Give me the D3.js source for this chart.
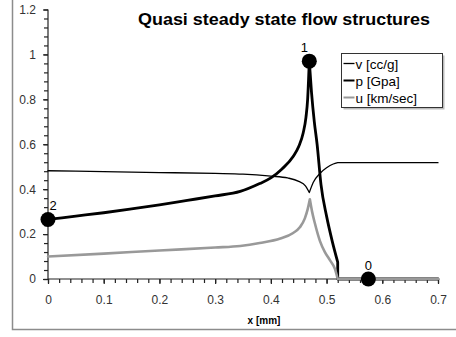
<!DOCTYPE html>
<html>
<head>
<meta charset="utf-8">
<script src="https://cdn.jsdelivr.net/npm/d3@7"></script>
<style>
  body { margin: 0; background: #fff; }
  svg { display: block; font-family: "Liberation Sans", Arial, sans-serif; }
</style>
</head>
<body>
<svg id="chart" width="456" height="337"></svg>
<script>
// values
const vX = [0, 0.1, 0.2, 0.3, 0.35, 0.4, 0.43, 0.45, 0.462, 0.469, 0.476, 0.488, 0.5, 0.512, 0.52, 0.7];
const vY = [0.482, 0.478, 0.474, 0.47, 0.467, 0.458, 0.45, 0.435, 0.415, 0.385, 0.43, 0.47, 0.495, 0.512, 0.518, 0.518];
const vBreaks = [9, 14];

const pX = [0, 0.05, 0.1, 0.15, 0.2, 0.25, 0.3, 0.345, 0.38, 0.4, 0.42, 0.44, 0.45, 0.458, 0.463, 0.466, 0.469, 0.473, 0.478, 0.483, 0.49, 0.5, 0.51, 0.52, 0.52, 0.7];
const pY = [0.265, 0.28, 0.295, 0.312, 0.33, 0.35, 0.37, 0.39, 0.425, 0.45, 0.49, 0.545, 0.59, 0.65, 0.72, 0.8, 0.97, 0.83, 0.7, 0.6, 0.42, 0.28, 0.17, 0.075, 0, 0];
const pBreaks = [16, 23, 24];

const uX = [0, 0.1, 0.2, 0.3, 0.345, 0.38, 0.417, 0.44, 0.452, 0.461, 0.466, 0.47, 0.474, 0.479, 0.488, 0.497, 0.506, 0.515, 0.52, 0.7];
const uY = [0.1, 0.113, 0.127, 0.14, 0.147, 0.16, 0.18, 0.205, 0.23, 0.27, 0.31, 0.355, 0.3, 0.248, 0.17, 0.12, 0.084, 0.045, 0, 0];
const uBreaks = [11, 18];

const pointX = [0, 0.469, 0.575];
const pointY = [0.265, 0.97, 0];
const pointLabels = ['2', '1', '0'];

const seriesNames = ['v [cc/g]', 'p [Gpa]', 'u [km/sec]'];
const xTicks = [0, 0.1, 0.2, 0.3, 0.4, 0.5, 0.6, 0.7];
const yTicks = [0, 0.2, 0.4, 0.6, 0.8, 1, 1.2];

const svg = d3.select('#chart');

// outer chart frame (top and right run off the picture)
svg.append('rect')
    .attr('x', 12.5).attr('y', -10)
    .attr('width', 470).attr('height', 339.5)
    .style('fill', 'none')
    .style('stroke', '#8c8c8c')
    .style('stroke-width', 1.5);

const xScale = d3.scaleLinear().domain([0, 0.7]).range([48, 438]);
const yScale = d3.scaleLinear().domain([0, 1.2]).range([279, 9.5]);

// axes
const yAxis = svg.append('g')
    .attr('transform', 'translate(48,0)')
    .call(d3.axisLeft(yScale).tickValues(yTicks).tickSize(5).tickPadding(7)
        .tickFormat(d => d3.format('')(d)));
yAxis.append('g').call(d3.axisLeft(yScale).tickValues(d3.range(0, 1.2001, 0.04)).tickSize(4).tickFormat(''))
    .select('.domain').remove();

const xAxis = svg.append('g')
    .attr('transform', 'translate(0,279)')
    .call(d3.axisBottom(xScale).tickValues(xTicks).tickSize(5).tickPadding(11)
        .tickFormat(d => d3.format('')(d)));
xAxis.append('g').call(d3.axisBottom(xScale).tickValues(d3.range(0, 0.7001, 0.02)).tickSize(4).tickFormat(''))
    .select('.domain').remove();

[yAxis, xAxis].forEach(a => {
    a.selectAll('path, line').style('stroke', '#222').style('stroke-width', 1.2);
    a.selectAll('text').style('font-size', '12px').style('fill', '#333');
});
yAxis.select('.domain').attr('d', 'M0,' + yScale(1.2) + 'V' + yScale(0));
xAxis.select('.domain').attr('d', 'M' + xScale(0) + ',0H' + xScale(0.7));

svg.append('text')
    .attr('x', 264).attr('y', 324)
    .attr('text-anchor', 'middle')
    .style('font-size', '10px')
    .style('font-weight', 'bold')
    .text('x [mm]');

// series: each drawn as smooth pieces split at the sharp corners
const line = d3.line().x(d => xScale(d[0])).y(d => yScale(d[1])).curve(d3.curveMonotoneX);
function pieces(xs, ys, breaks) {
    const pts = d3.zip(xs, ys);
    const cuts = [0, ...breaks, pts.length - 1];
    const out = [];
    for (let i = 0; i < cuts.length - 1; i++) {
        const seg = pts.slice(cuts[i], cuts[i + 1] + 1);
        out.push(seg[0][0] === seg[seg.length - 1][0] ? d3.line().x(d => xScale(d[0])).y(d => yScale(d[1]))(seg) : line(seg));
    }
    return out.join('');
}
const series = [
    { d: pieces(vX, vY, vBreaks), color: '#000', width: 1.3 },
    { d: pieces(pX, pY, pBreaks), color: '#000', width: 2.8 },
    { d: pieces(uX, uY, uBreaks), color: '#999', width: 2.6 }
];
svg.append('g').selectAll('path')
    .data(series)
    .join('path')
    .attr('d', d => d.d)
    .style('fill', 'none')
    .style('stroke', d => d.color)
    .style('stroke-width', d => d.width)
    .style('stroke-linejoin', 'round')
    .style('stroke-linecap', 'round');

// marked points
const pts = d3.zip(pointX, pointY, pointLabels);
svg.append('g').selectAll('circle')
    .data(pts)
    .join('circle')
    .attr('cx', d => xScale(d[0]))
    .attr('cy', d => yScale(d[1]))
    .attr('r', 7.5)
    .style('fill', '#000');
const labelOffset = [[5, -9], [-5, -9], [0, -9]];
svg.append('g').selectAll('text')
    .data(pts)
    .join('text')
    .attr('x', (d, i) => xScale(d[0]) + labelOffset[i][0])
    .attr('y', (d, i) => yScale(d[1]) + labelOffset[i][1])
    .attr('text-anchor', 'middle')
    .style('font-size', '13px')
    .text(d => d[2]);

// title
svg.append('text')
    .attr('x', 284).attr('y', 25)
    .attr('text-anchor', 'middle')
    .attr('textLength', 292)
    .attr('lengthAdjust', 'spacingAndGlyphs')
    .style('font-size', '16px')
    .style('font-weight', 'bold')
    .text('Quasi steady state flow structures');

// legend
const legend = svg.append('g').attr('transform', 'translate(341.5,53.5)');
legend.append('rect')
    .attr('x', 2).attr('y', 2).attr('width', 101).attr('height', 54)
    .style('fill', '#bbb');
legend.append('rect')
    .attr('width', 101).attr('height', 54)
    .style('fill', '#fff')
    .style('stroke', '#333')
    .style('stroke-width', 1);
const legendItems = legend.selectAll('.legend-item')
    .data(series)
    .join('g')
    .classed('legend-item', true)
    .attr('transform', (d, i) => `translate(0,${10 + i * 17})`);
legendItems.append('line')
    .attr('x1', 2).attr('x2', 13)
    .style('stroke', d => d.color)
    .style('stroke-width', d => Math.min(d.width, 2));
legendItems.append('text')
    .attr('x', 14).attr('y', 5)
    .style('font-size', '13.5px')
    .text((d, i) => seriesNames[i]);
</script>
</body>
</html>
